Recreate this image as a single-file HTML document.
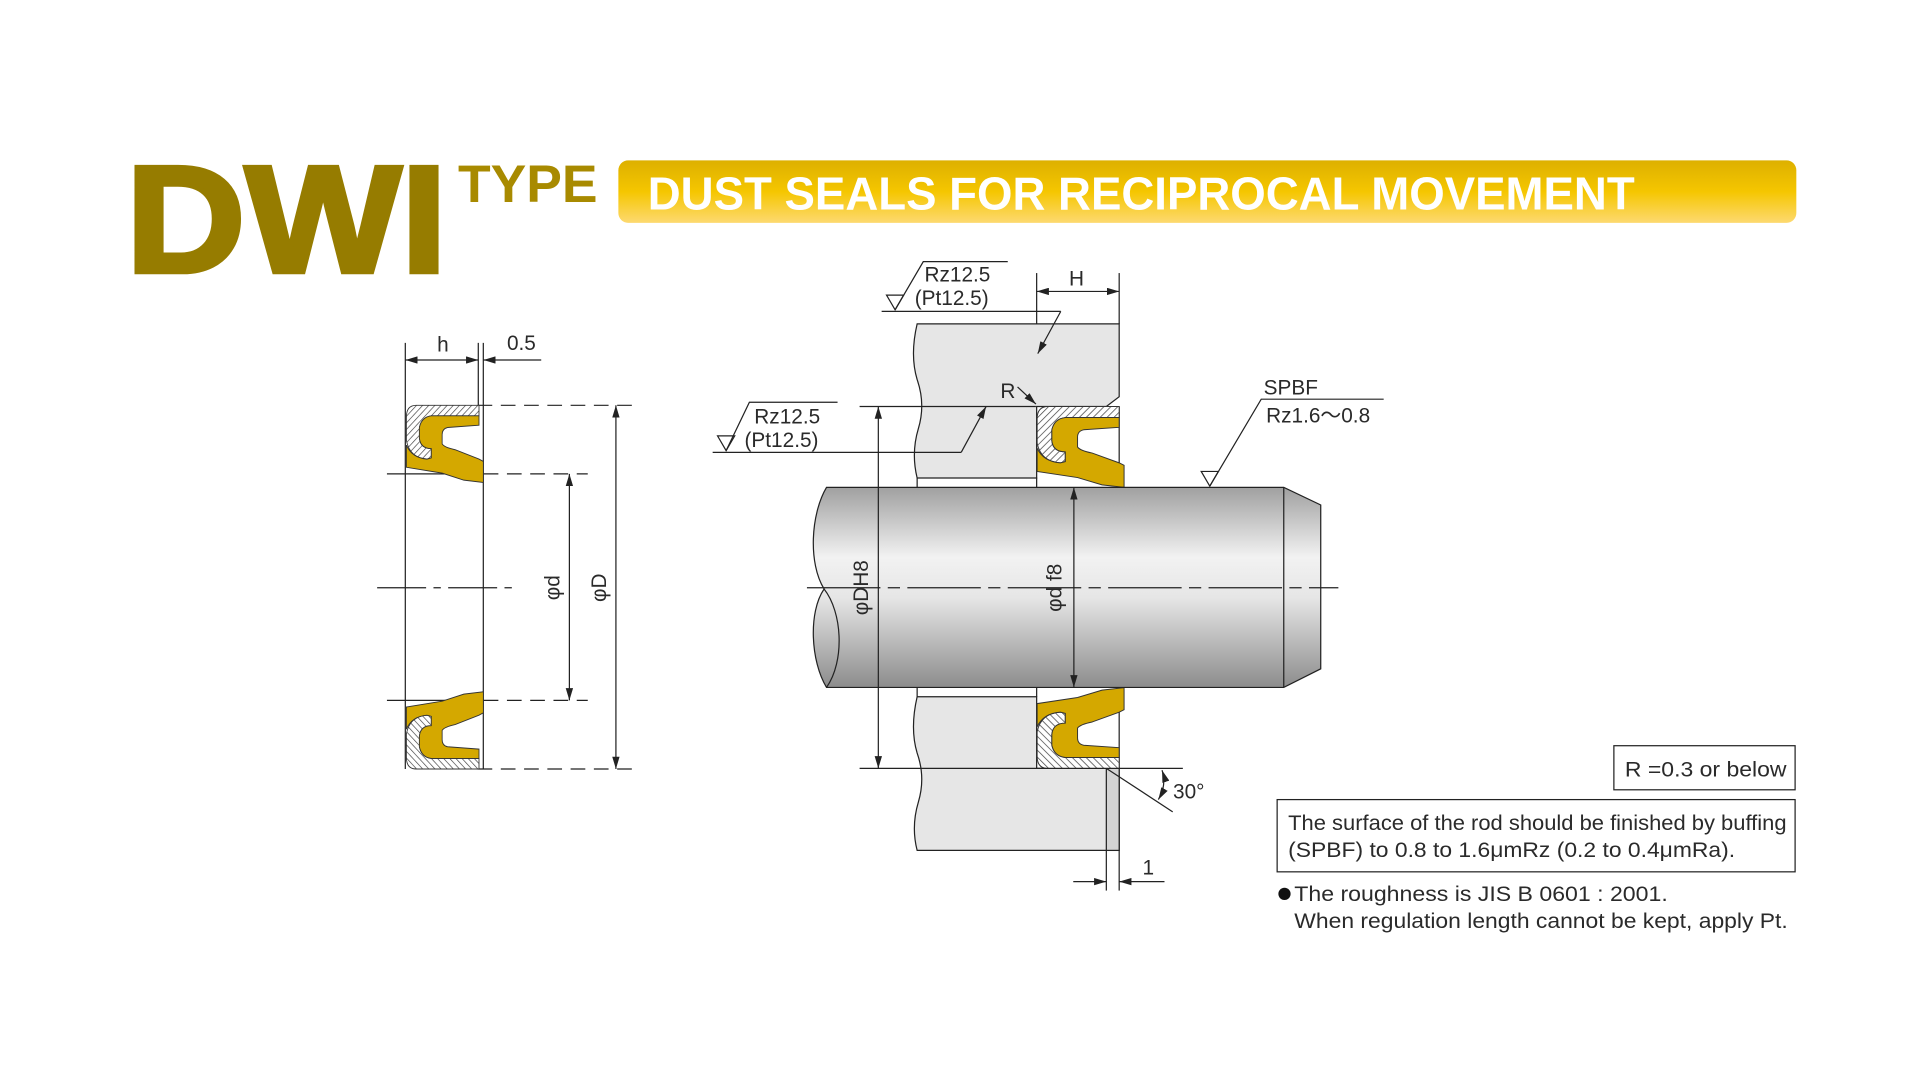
<!DOCTYPE html>
<html><head><meta charset="utf-8"><style>
html,body{margin:0;padding:0;background:#fff;width:1920px;height:1080px;overflow:hidden}
svg{display:block}
text{font-family:"Liberation Sans",Arial,sans-serif;fill:#2a2a2a}
</style></head><body>
<svg width="1920" height="1080" viewBox="0 0 1568 882" xmlns="http://www.w3.org/2000/svg">
<defs>
<linearGradient id="ban" x1="0" y1="0" x2="0" y2="1">
<stop offset="0" stop-color="#ddb000"/><stop offset="0.5" stop-color="#f5c600"/><stop offset="1" stop-color="#fdd970"/>
</linearGradient>
<linearGradient id="rod" x1="0" y1="0" x2="0" y2="1">
<stop offset="0" stop-color="#a0a0a0"/><stop offset="0.35" stop-color="#f2f2f2"/><stop offset="0.55" stop-color="#e6e6e6"/><stop offset="1" stop-color="#8c8c8c"/>
</linearGradient>
<pattern id="hatch" width="4" height="4" patternUnits="userSpaceOnUse" patternTransform="rotate(45)">
<rect width="4" height="4" fill="#fff"/><line x1="0" y1="0" x2="0" y2="4" stroke="#444" stroke-width="1.2"/>
</pattern>
<marker id="ar" viewBox="0 0 10 6" refX="10" refY="3" markerWidth="10" markerHeight="6" markerUnits="userSpaceOnUse" orient="auto-start-reverse">
<path d="M0 0 L10 3 L0 6 Z" fill="#222"/></marker>
<g id="seal">
<path d="M914 332 L856 332 Q847 332 847 342 L847 362 Q850 377 866 378 L870 377 L870 369 Q860 369 859 360 L859 351 Q861 342 870 341 L914 341 Z" fill="url(#hatch)" stroke="#333" stroke-width="0.8"/>
<path d="M870 341 L914 341 L914 349 L885 351 Q880 352 880 357 L880 365 Q882 368 892 370 L914 378 L918 380 L918 398 L900 396 L880 390 L847 385 L847 366 Q852 377 866 378 L870 377 L870 369 Q860 369 859 360 L859 351 Q861 342 870 341 Z" fill="#d4a800" stroke="#333" stroke-width="0.8"/>
</g>
</defs>

<!-- Title -->
<text x="103" y="222" font-size="124" font-weight="bold" style="fill:#967c00;stroke:#967c00;stroke-width:4;stroke-linejoin:miter" textLength="262" lengthAdjust="spacingAndGlyphs">DWI</text>
<text x="374" y="165" font-size="43" font-weight="bold" style="fill:#a88a00" textLength="114" lengthAdjust="spacingAndGlyphs">TYPE</text>
<rect x="505" y="131" width="962" height="51" rx="8" fill="url(#ban)"/>
<text x="529" y="171" font-size="38" font-weight="bold" style="fill:#fff" textLength="806" lengthAdjust="spacingAndGlyphs">DUST SEALS FOR RECIPROCAL MOVEMENT</text>

<!-- Left seal drawing -->
<g stroke="#222" stroke-width="1" fill="none">
<line x1="331" y1="280" x2="331" y2="628"/>
<line x1="390.6" y1="280" x2="390.6" y2="331"/>
<line x1="394.7" y1="280" x2="394.7" y2="628"/>
<line x1="331" y1="294" x2="390.6" y2="294" marker-start="url(#ar)" marker-end="url(#ar)"/>
<line x1="442" y1="294" x2="394.7" y2="294" marker-end="url(#ar)"/>
<line x1="390" y1="331" x2="518" y2="331" stroke-dasharray="12 7"/>
<line x1="390" y1="628" x2="518" y2="628" stroke-dasharray="12 7"/>
<line x1="316" y1="387" x2="395" y2="387"/>
<line x1="395" y1="387" x2="480" y2="387" stroke-dasharray="12 7"/>
<line x1="316" y1="572" x2="395" y2="572"/>
<line x1="395" y1="572" x2="480" y2="572" stroke-dasharray="12 7"/>
<line x1="308" y1="480" x2="420" y2="480" stroke-dasharray="40 6 6 6"/>
<line x1="465" y1="387" x2="465" y2="572" marker-start="url(#ar)" marker-end="url(#ar)"/>
<line x1="503" y1="331" x2="503" y2="628" marker-start="url(#ar)" marker-end="url(#ar)"/>
</g>
<use href="#seal" transform="translate(331,331) scale(0.885,0.955) translate(-846,-332)"/>
<use href="#seal" transform="matrix(1 0 0 -1 0 959) translate(331,331) scale(0.885,0.955) translate(-846,-332)"/>
<text x="357" y="287" font-size="17">h</text>
<text x="414" y="286" font-size="17">0.5</text>
<text transform="translate(457,480) rotate(-90)" font-size="17" text-anchor="middle">φd</text>
<text transform="translate(495,480) rotate(-90)" font-size="17" text-anchor="middle">φD</text>

<!-- Main drawing: housing -->
<g stroke="#222" stroke-width="1" fill="#e6e6e6">
<path d="M749 264.5 L914 264.5 L914 324 L903.5 332 L846.6 332 L846.6 390.4 L749 390.4 Q744 370 750 350 Q756 330 749 310 Q743 290 749 264.5 Z"/>
<path d="M749 569 L846.6 569 L846.6 627.5 L914 627.5 L914 694.5 L749 694.5 Q744 675 750 655 Q756 635 749 615 Q743 595 749 569 Z"/>
<rect x="903.5" y="627.5" width="10.5" height="67" fill="#d4d4d4"/>
<line x1="749" y1="390" x2="749" y2="398"/>
<line x1="846.6" y1="390" x2="846.6" y2="398"/>
<line x1="749" y1="561" x2="749" y2="569"/>
<line x1="846.6" y1="561" x2="846.6" y2="569"/>
<line x1="914" y1="332" x2="914" y2="398" fill="none"/>
<line x1="914" y1="561" x2="914" y2="627.5" fill="none"/>
</g>
<use href="#seal"/>
<use href="#seal" transform="matrix(1 0 0 -1 0 959.6)"/>

<!-- Rod -->
<path d="M675 398 L1048.4 398 L1078.6 412.4 L1078.6 546.2 L1048.4 561.4 L675 561.4 C662 540 660 500 673 481 C660 460 662 420 675 398 Z" fill="url(#rod)" stroke="#222" stroke-width="1"/>
<path d="M673 481 C688 500 690 540 675 561.4" fill="none" stroke="#222" stroke-width="1"/>
<line x1="1048.4" y1="398" x2="1048.4" y2="561.4" stroke="#222" stroke-width="1"/>

<!-- dims main -->
<g stroke="#222" stroke-width="1" fill="none">
<line x1="659" y1="480" x2="1093" y2="480" stroke-dasharray="60 6 10 6"/>
<line x1="702" y1="332" x2="846" y2="332"/>
<line x1="702" y1="627.5" x2="966" y2="627.5"/>
<line x1="717.3" y1="332" x2="717.3" y2="627.5" marker-start="url(#ar)" marker-end="url(#ar)"/>
<line x1="877" y1="398" x2="877" y2="561.4" marker-start="url(#ar)" marker-end="url(#ar)"/>
<line x1="846.6" y1="223" x2="846.6" y2="264.5"/>
<line x1="914" y1="223" x2="914" y2="264.5"/>
<line x1="846.6" y1="238" x2="914" y2="238" marker-start="url(#ar)" marker-end="url(#ar)"/>
<path d="M724 241 L738 241 L731 253 Z"/>
<polyline points="731,253 754,213.7 823,213.7"/>
<line x1="720" y1="254.3" x2="866.3" y2="254.3"/>
<line x1="866.3" y1="254.3" x2="847.5" y2="288.8" marker-end="url(#ar)"/>
<path d="M586 356 L600 356 L593 368 Z"/>
<polyline points="593,368 612,328.5 684,328.5"/>
<line x1="582" y1="369.4" x2="785" y2="369.4"/>
<line x1="785" y1="369.4" x2="805.3" y2="332" marker-end="url(#ar)"/>
<line x1="831" y1="316" x2="846" y2="330" marker-end="url(#ar)"/>
<polyline points="1130,326 1030,326 988,397"/>
<path d="M981 385 L995 385 L988 397 Z"/>
<line x1="903.5" y1="627.5" x2="957.7" y2="663"/>
<path d="M949 629 Q953 641 946 653" marker-start="url(#ar)" marker-end="url(#ar)"/>
<line x1="903.5" y1="694.5" x2="903.5" y2="727.3"/>
<line x1="914" y1="694.5" x2="914" y2="727.3"/>
<line x1="876.5" y1="720" x2="903.5" y2="720" marker-end="url(#ar)"/>
<line x1="951" y1="720" x2="914" y2="720" marker-end="url(#ar)"/>
</g>
<text x="873" y="233" font-size="17">H</text>
<text x="755" y="230" font-size="17">Rz12.5</text>
<text x="747" y="249" font-size="17">(Pt12.5)</text>
<text x="616" y="346" font-size="17">Rz12.5</text>
<text x="608" y="365" font-size="17">(Pt12.5)</text>
<text x="817" y="325" font-size="17">R</text>
<text x="1032" y="322" font-size="17">SPBF</text>
<text x="1034" y="345" font-size="17">Rz1.6〜0.8</text>
<text x="958" y="652" font-size="17">30°</text>
<text x="933" y="714" font-size="17">1</text>
<text transform="translate(709,480) rotate(-90)" font-size="17" text-anchor="middle">φDH8</text>
<text transform="translate(867,480) rotate(-90)" font-size="17" text-anchor="middle">φd f8</text>

<!-- notes -->
<rect x="1318" y="609" width="148" height="36" fill="none" stroke="#222" stroke-width="1"/>
<text x="1327" y="634" font-size="17" textLength="132" lengthAdjust="spacingAndGlyphs">R =0.3 or below</text>
<rect x="1043" y="653" width="423" height="59" fill="none" stroke="#222" stroke-width="1"/>
<text x="1052" y="678" font-size="17" textLength="407" lengthAdjust="spacingAndGlyphs">The surface of the rod should be finished by buffing</text>
<text x="1052" y="700" font-size="17" textLength="365" lengthAdjust="spacingAndGlyphs">(SPBF) to 0.8 to 1.6μmRz (0.2 to 0.4μmRa).</text>
<circle cx="1049" cy="730" r="5" fill="#111"/>
<text x="1057" y="736" font-size="17" textLength="305" lengthAdjust="spacingAndGlyphs">The roughness is JIS B 0601 : 2001.</text>
<text x="1057" y="758" font-size="17" textLength="403" lengthAdjust="spacingAndGlyphs">When regulation length cannot be kept, apply Pt.</text>
</svg>
</body></html>
